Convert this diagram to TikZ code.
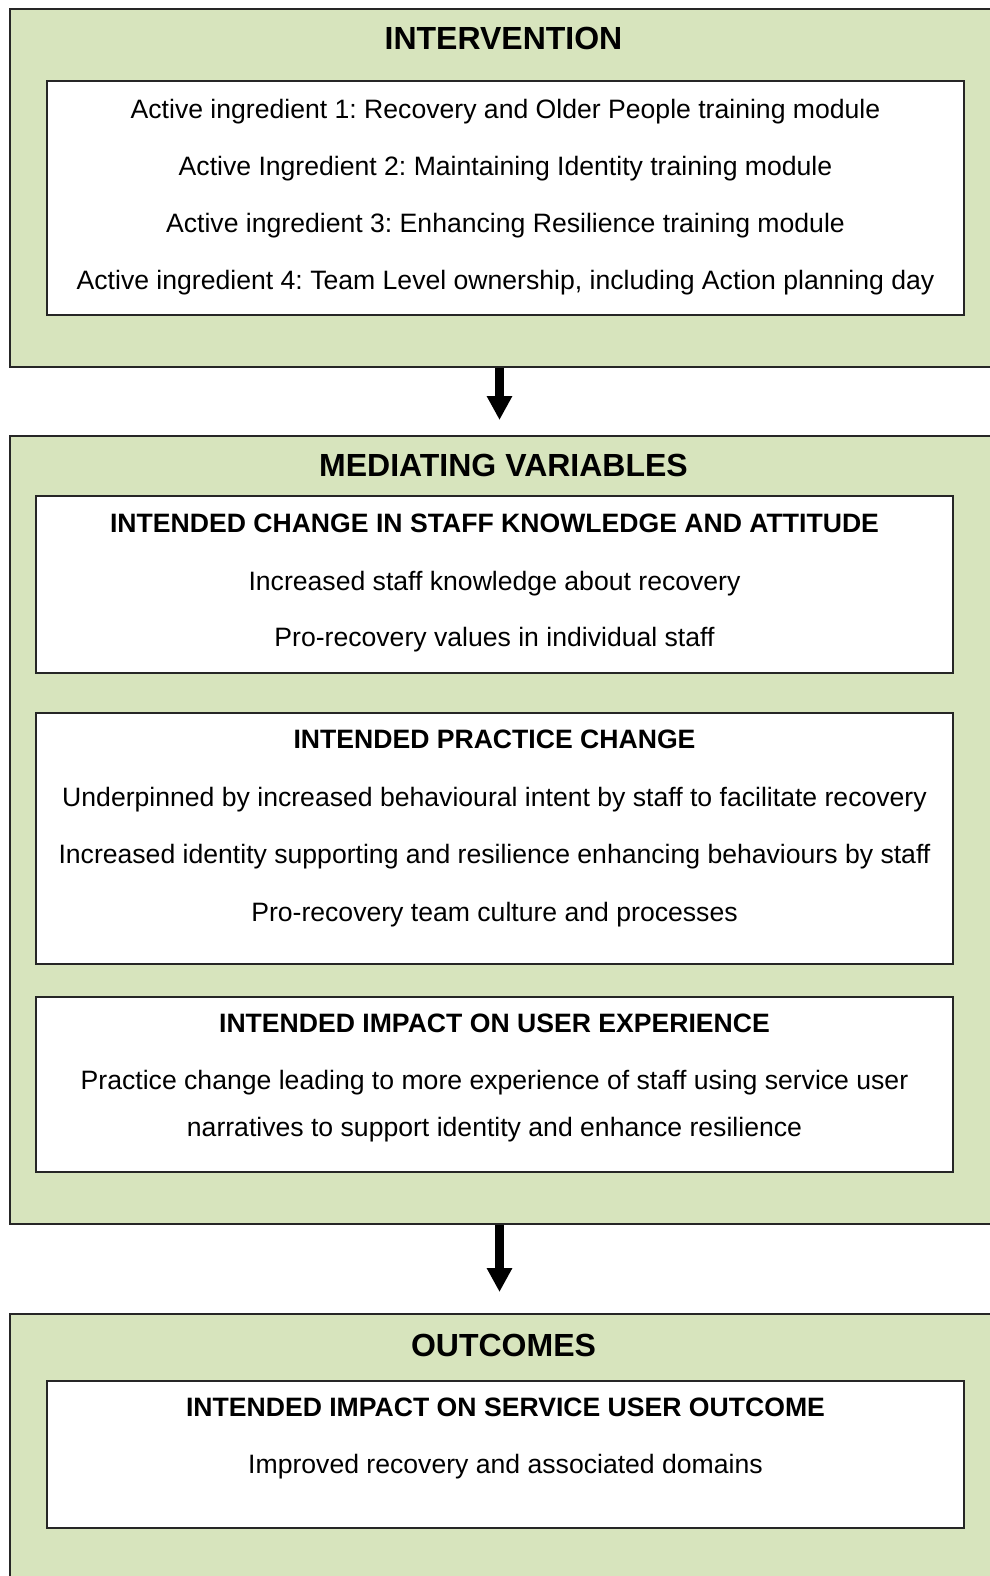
\documentclass[tikz,border=0pt]{standalone}
\usepackage{fontspec}
\setmainfont{Liberation Sans}
\usetikzlibrary{arrows.meta}
\definecolor{panelgreen}{RGB}{215,228,189}
\frenchspacing

\begin{document}
\begin{tikzpicture}[x=1pt,y=-1pt,
    panel/.style={draw=black!85,line width=1.5pt,fill=panelgreen,inner sep=0pt},
    whitebox/.style={draw=black!85,line width=1.5pt,fill=white,inner sep=0pt,minimum width=917},
    title/.style={font=\fontsize{32}{38}\selectfont\bfseries,text height=23pt,text depth=0pt,inner sep=0pt},
    head/.style={font=\fontsize{26.6}{32}\selectfont\bfseries,text height=19pt,text depth=0pt,inner sep=0pt},
    item/.style={font=\fontsize{26.6}{32}\selectfont,text height=19pt,text depth=0pt,inner sep=0pt},
    bigarrow/.style={line width=9pt,-{Triangle[width=24pt,length=24pt]}}]
  \useasboundingbox (0,0) rectangle (990,1576);

  \node[panel,minimum width=987,minimum height=358] (intervention) at (503.5,188) {};
  \node[panel,minimum width=987,minimum height=788] (mediating) at (503.5,830) {};
  \node[panel,minimum width=987,minimum height=286] (outcomes) at (503.5,1457) {};

  \node[title] (interventiontitle) at (503.5,38) {INTERVENTION};
  \node[whitebox,minimum height=234] (ingredients) at (505.5,198) {};
  \node[item] (ingredient1) at (505.5,109) {Active ingredient 1: Recovery and Older People training module};
  \node[item] (ingredient2) at (505.5,166) {Active Ingredient 2: Maintaining Identity training module};
  \node[item] (ingredient3) at (505.5,223) {Active ingredient 3: Enhancing Resilience training module};
  \node[item] (ingredient4) at (505.5,280) {Active ingredient 4: Team Level ownership, including Action planning day};

  \node[title] (mediatingtitle) at (503.5,465) {MEDIATING VARIABLES};
  \node[whitebox,minimum height=177] (knowledge) at (494.5,584.5) {};
  \node[head] (knowledgehead) at (494.5,523) {INTENDED CHANGE IN STAFF KNOWLEDGE AND ATTITUDE};
  \node[item] (knowledge1) at (494.5,581) {Increased staff knowledge about recovery};
  \node[item] (knowledge2) at (494.5,637) {Pro-recovery values in individual staff};

  \node[whitebox,minimum height=251] (practice) at (494.5,838.5) {};
  \node[head] (practicehead) at (494.5,739) {INTENDED PRACTICE CHANGE};
  \node[item] (practice1) at (494.5,797) {Underpinned by increased behavioural intent by staff to facilitate recovery};
  \node[item] (practice2) at (494.5,854) {Increased identity supporting and resilience enhancing behaviours by staff};
  \node[item] (practice3) at (494.5,912) {Pro-recovery team culture and processes};

  \node[whitebox,minimum height=175] (experience) at (494.5,1084.5) {};
  \node[head] (experiencehead) at (494.5,1023) {INTENDED IMPACT ON USER EXPERIENCE};
  \node[item] (experience1) at (494.5,1080) {Practice change leading to more experience of staff using service user};
  \node[item] (experience2) at (494.5,1127) {narratives to support identity and enhance resilience};

  \node[title] (outcomestitle) at (503.5,1345) {OUTCOMES};
  \node[whitebox,minimum height=147] (useroutcome) at (505.5,1454.5) {};
  \node[head] (useroutcomehead) at (505.5,1407) {INTENDED IMPACT ON SERVICE USER OUTCOME};
  \node[item] (useroutcome1) at (505.5,1464) {Improved recovery and associated domains};

  \coordinate (tip1) at (499.5,420);
  \coordinate (tip2) at (499.5,1292);
  \draw[bigarrow] (intervention.south -| tip1) -- (tip1);
  \draw[bigarrow] (mediating.south -| tip2) -- (tip2);
\end{tikzpicture}
\end{document}
